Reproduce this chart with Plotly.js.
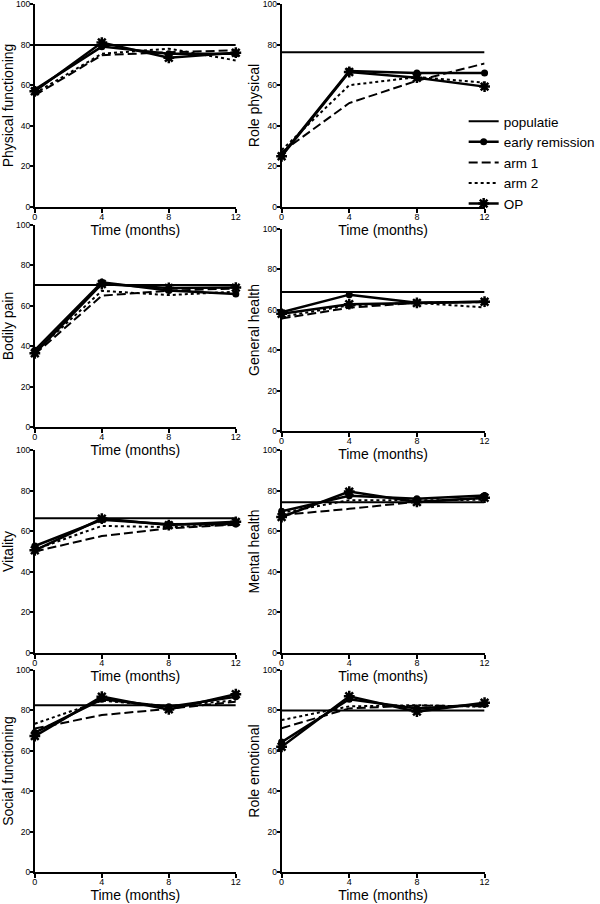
<!DOCTYPE html>
<html>
<head>
<meta charset="utf-8">
<script src="https://cdn.plot.ly/plotly-3.0.1.min.js"></script>
<style>
  html, body { margin: 0; padding: 0; background: #fff; overflow: hidden; width: 600px; height: 904px; }
  #chart { width: 600px; height: 904px; overflow: hidden; }
</style>
</head>
<body>
<div id="chart"></div>
<script>
// ---- data ----
const months = [0, 4, 8, 12];
const panelTitles = ['Physical functioning', 'Role physical', 'Bodily pain', 'General health',
                     'Vitality', 'Mental health', 'Social functioning', 'Role emotional'];
const xTitle = 'Time (months)';
const seriesNames = ['populatie', 'early remission', 'arm 1', 'arm 2', 'OP'];
const yTickVals = [0, 20, 40, 60, 80, 100];
const xTickVals = [0, 4, 8, 12];

const populatie = [79.8, 76.2, 70.3, 68.8, 66.4, 74.3, 82.6, 79.9];
const earlyRemission = [
  [57.8, 79.0, 75.5, 75.5],
  [25.5, 67.0, 66.0, 66.0],
  [38.0, 71.6, 67.6, 65.8],
  [58.8, 67.5, 63.5, 64.0],
  [52.7, 65.6, 63.4, 63.6],
  [69.8, 77.5, 76.0, 77.6],
  [69.0, 85.5, 81.8, 86.7],
  [64.3, 85.5, 81.0, 83.0]
];
const arm1 = [
  [55.0, 74.8, 76.2, 77.2],
  [27.0, 51.2, 62.2, 70.7],
  [36.0, 65.0, 67.5, 68.6],
  [55.7, 61.0, 63.5, 63.8],
  [50.0, 57.6, 61.4, 63.2],
  [68.0, 71.0, 74.5, 76.3],
  [71.0, 77.7, 80.8, 84.3],
  [71.2, 81.0, 82.4, 82.0]
];
const arm2 = [
  [56.0, 75.5, 78.0, 72.2],
  [28.0, 60.0, 64.0, 61.2],
  [37.0, 67.4, 65.3, 67.0],
  [56.5, 62.2, 63.4, 61.2],
  [51.0, 62.6, 62.0, 63.4],
  [69.0, 75.3, 75.2, 75.5],
  [73.4, 84.8, 82.0, 85.0],
  [75.2, 82.0, 82.6, 81.8]
];
const OP = [
  [57.0, 81.0, 73.5, 76.0],
  [25.0, 66.5, 63.7, 59.3],
  [36.5, 70.8, 68.8, 69.0],
  [58.0, 62.8, 63.4, 64.0],
  [50.6, 66.2, 63.0, 64.6],
  [67.0, 79.5, 74.4, 76.5],
  [67.3, 86.8, 80.5, 88.0],
  [62.0, 87.0, 79.4, 83.8]
];

// ---- layout geometry (px) ----
const W = 600, H = 904;
const colX = [[35, 237], [283, 487]];
const rowY = [
  [[4, 207], [4, 207]],
  [[225, 427], [229, 431]],
  [[450, 653], [450, 653]],
  [[670, 872], [670, 872]]
];
const yTitleStandoff = [5, 0];
const FONT = 'Liberation Sans, Arial, Helvetica, sans-serif';

const traces = [];
const layout = {
  width: W, height: H, autosize: false,
  margin: {l: 0, r: 0, t: 0, b: 0, pad: 0},
  paper_bgcolor: '#fff', plot_bgcolor: '#fff',
  font: {family: FONT, color: '#000'},
  showlegend: true,
  legend: {
    x: 466 / W, xanchor: 'left', xref: 'paper',
    y: 1 - 106 / H, yanchor: 'top', yref: 'paper',
    bgcolor: 'rgba(0,0,0,0)', borderwidth: 0,
    font: {family: FONT, size: 13.5, color: '#000'},
    itemwidth: 30, tracegroupgap: 0
  }
};

for (let i = 0; i < 8; i++) {
  const r = Math.floor(i / 2), c = i % 2;
  const n = i + 1;
  const xa = 'x' + (n === 1 ? '' : n), ya = 'y' + (n === 1 ? '' : n);
  const xk = 'xaxis' + (n === 1 ? '' : n), yk = 'yaxis' + (n === 1 ? '' : n);
  const [x0, x1] = colX[c];
  const [t, b] = rowY[r][c];
  const show = (i === 1);

  layout[xk] = {
    domain: [x0 / W, x1 / W], anchor: ya, range: [0, 12],
    tickvals: xTickVals, ticktext: xTickVals.map(String),
    showline: true, linewidth: 2, linecolor: '#000', mirror: false,
    ticks: 'outside', ticklen: 4, tickwidth: 2, tickcolor: '#000',
    ticklabelstandoff: -4, ticklabeloverflow: 'allow',
    showgrid: false, zeroline: false, fixedrange: true,
    tickfont: {size: 9, family: FONT, color: '#000'},
    title: {text: xTitle, font: {size: 14, family: FONT, color: '#000'}, standoff: 3}
  };
  layout[yk] = {
    domain: [1 - b / H, 1 - t / H], anchor: xa, range: [0, 100],
    tickvals: yTickVals, ticktext: yTickVals.map(String),
    showline: true, linewidth: 2, linecolor: '#000',
    ticks: 'outside', ticklen: 3, tickwidth: 2, tickcolor: '#000',
    ticklabelstandoff: -2, ticklabeloverflow: 'allow',
    showgrid: false, zeroline: false, fixedrange: true,
    tickfont: {size: 8.5, family: FONT, color: '#000'},
    title: {text: panelTitles[i], font: {size: 14, family: FONT, color: '#000'}, standoff: yTitleStandoff[c]}
  };

  const common = {type: 'scatter', xaxis: xa, yaxis: ya, cliponaxis: false, hoverinfo: 'skip'};

  traces.push(Object.assign({}, common, {
    name: seriesNames[0], showlegend: show, legendrank: 1,
    x: [months[0], months[months.length - 1]], y: [populatie[i], populatie[i]],
    mode: 'lines', line: {color: '#000', width: 2}
  }));
  traces.push(Object.assign({}, common, {
    name: seriesNames[1], showlegend: show, legendrank: 2,
    x: months, y: earlyRemission[i], mode: 'lines+markers',
    line: {color: '#000', width: 2.5},
    marker: {symbol: 'circle', size: 7, color: '#000'}
  }));
  traces.push(Object.assign({}, common, {
    name: seriesNames[2], showlegend: show, legendrank: 3,
    x: months, y: arm1[i], mode: 'lines',
    line: {color: '#000', width: 2, dash: '9px,4px'}
  }));
  traces.push(Object.assign({}, common, {
    name: seriesNames[3], showlegend: show, legendrank: 4,
    x: months, y: arm2[i], mode: 'lines',
    line: {color: '#000', width: 2, dash: '3px,3px'}
  }));
  traces.push(Object.assign({}, common, {
    name: seriesNames[4], showlegend: show, legendrank: 5,
    x: months, y: OP[i], mode: 'lines+markers',
    line: {color: '#000', width: 2.5},
    marker: {symbol: 'asterisk-open', size: 9, color: '#000', line: {color: '#000', width: 2.5}}
  }));
}

Plotly.newPlot('chart', traces, layout, {staticPlot: true, displayModeBar: false});
</script>
</body>
</html>
